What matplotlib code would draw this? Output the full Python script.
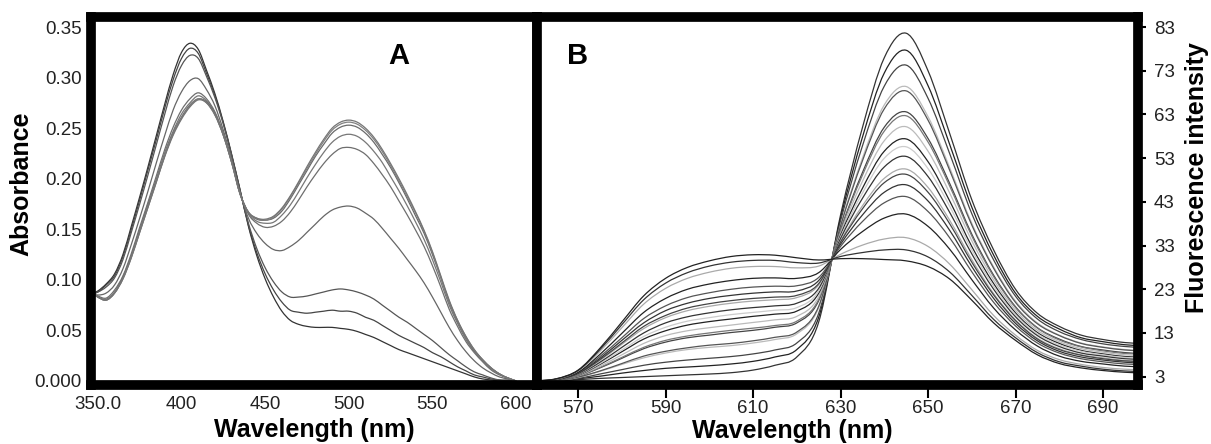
import matplotlib
matplotlib.use('Agg')
import matplotlib.pyplot as plt
from matplotlib.path import Path
from matplotlib.patches import PathPatch

plt.rcParams['font.family'] = ['Liberation Sans', 'DejaVu Sans']

# ---- Panel A: absorbance spectra ----
wl_abs = [345, 350, 355, 360, 365, 370, 375, 380, 385, 390,
          395, 400, 405, 410, 415, 420, 425, 430, 435, 440,
          445, 450, 455, 460, 465, 470, 475, 480, 485, 490,
          495, 500, 505, 510, 515, 520, 525, 530, 535, 540,
          545, 550, 555, 560, 565, 570, 575, 580, 585, 590,
          595, 600]

abs_1 = [.085, .089, .096, .106, .125, .153, .182, .212, .243, .274,
         .303, .325, .334, .328, .307, .284, .256, .224, .189, .153,
         .124, .101, .083, .069, .060, .056, .054, .053, .053, .053,
         .052, .051, .049, .046, .043, .039, .035, .031, .028, .025,
         .022, .019, .016, .013, .010, .007, .004, .002, .001, 0,
         0, 0]
abs_2 = [.085, .088, .095, .104, .123, .150, .179, .209, .239, .270,
         .298, .319, .329, .324, .304, .282, .255, .223, .189, .154,
         .127, .106, .090, .078, .070, .068, .067, .068, .069, .070,
         .069, .069, .067, .063, .060, .055, .050, .045, .041, .037,
         .033, .028, .024, .019, .014, .010, .006, .004, .002, .001,
         0, 0]
abs_3 = [.086, .088, .093, .102, .120, .147, .175, .204, .234, .264,
         .292, .312, .322, .319, .301, .280, .254, .223, .188, .156,
         .131, .112, .098, .088, .083, .083, .084, .086, .088, .090,
         .091, .090, .088, .085, .081, .075, .069, .063, .058, .052,
         .046, .040, .033, .026, .020, .014, .009, .006, .003, .001,
         .001, 0]
abs_4 = [.087, .085, .087, .095, .111, .135, .161, .188, .216, .243,
         .268, .286, .297, .299, .288, .272, .248, .219, .187, .161,
         .146, .136, .130, .129, .133, .139, .147, .155, .163, .169,
         .172, .173, .171, .166, .160, .151, .141, .131, .120, .109,
         .097, .083, .068, .053, .040, .029, .020, .013, .008, .004,
         .002, 0]
abs_5 = [.088, .084, .082, .090, .104, .126, .152, .177, .203, .229,
         .251, .268, .279, .285, .279, .266, .245, .217, .186, .165,
         .156, .152, .153, .158, .167, .179, .192, .204, .215, .224,
         .230, .231, .229, .224, .215, .204, .192, .178, .164, .149,
         .133, .114, .093, .071, .054, .039, .028, .019, .011, .006,
         .003, 0]
abs_6 = [.089, .083, .081, .088, .103, .124, .149, .175, .200, .226,
         .247, .264, .275, .282, .277, .265, .244, .217, .185, .166,
         .158, .156, .157, .164, .174, .187, .201, .214, .226, .236,
         .242, .244, .242, .236, .227, .216, .202, .188, .173, .157,
         .140, .120, .098, .075, .057, .041, .029, .020, .012, .007,
         .003, 0]
abs_7 = [.089, .083, .080, .087, .102, .123, .148, .173, .198, .223,
         .245, .261, .273, .279, .276, .264, .243, .216, .185, .167,
         .160, .159, .161, .168, .180, .194, .208, .222, .234, .245,
         .251, .253, .251, .245, .236, .224, .211, .196, .180, .163,
         .146, .125, .102, .078, .059, .043, .030, .021, .013, .007,
         .003, 0]
abs_8 = [.089, .083, .080, .087, .101, .122, .147, .172, .197, .223,
         .244, .260, .272, .279, .275, .263, .243, .216, .185, .167,
         .161, .159, .162, .170, .182, .196, .210, .224, .237, .248,
         .254, .256, .254, .248, .239, .227, .213, .198, .182, .166,
         .148, .127, .103, .079, .060, .044, .031, .021, .013, .007,
         .003, 0]
abs_9 = [.089, .083, .080, .087, .101, .122, .147, .172, .197, .222,
         .243, .259, .271, .278, .275, .263, .243, .216, .185, .167,
         .161, .160, .163, .171, .183, .197, .212, .226, .239, .250,
         .256, .258, .256, .250, .241, .229, .215, .200, .184, .167,
         .149, .128, .104, .080, .060, .044, .031, .021, .013, .007,
         .003, 0]

abs_curves = [abs_1, abs_2, abs_3, abs_4, abs_5, abs_6, abs_7, abs_8, abs_9]
abs_colors = ['#333333', '#444444', '#555555', '#666666', '#6e6e6e',
              '#777777', '#6a6a6a', '#808080', '#757575']

# ---- Panel B: fluorescence spectra ----
wl_fl = [560, 565, 570, 575, 580, 585, 590, 595, 600, 605,
         610, 615, 620, 625, 630, 635, 640, 645, 650, 655,
         660, 665, 670, 675, 680, 685, 690, 695, 700]

fl_01 = [1.8, 2.0, 2.3, 2.6, 2.8, 3.0, 3.2, 3.4, 3.6, 3.9,
         4.5, 5.6, 7.5, 15.5, 40.0, 60.0, 76.0, 81.6, 73.0, 58.5,
         43.5, 32.0, 23.0, 17.5, 14.5, 12.5, 11.5, 10.8, 10.5]
fl_02 = [1.8, 2.0, 2.5, 3.1, 3.8, 4.4, 4.9, 5.2, 5.5, 5.9,
         6.5, 7.5, 9.2, 16.6, 39.3, 57.8, 72.5, 77.7, 69.6, 56.0,
         41.8, 30.8, 22.1, 16.8, 13.9, 11.9, 11.0, 10.3, 10.0]
fl_03 = [1.8, 2.1, 2.6, 3.6, 4.6, 5.6, 6.3, 6.8, 7.2, 7.6,
         8.2, 9.1, 10.7, 17.5, 38.6, 55.8, 69.5, 74.3, 66.7, 53.9,
         40.3, 29.7, 21.4, 16.2, 13.3, 11.5, 10.5, 9.9, 9.6]
fl_04 = [1.8, 2.1, 2.8, 4.2, 5.8, 7.3, 8.4, 9.2, 9.7, 10.1,
         10.7, 11.5, 12.8, 18.8, 37.7, 53.0, 65.2, 69.4, 62.5, 50.7,
         38.1, 28.1, 20.3, 15.3, 12.5, 10.7, 9.8, 9.2, 8.9]
fl_05 = [1.9, 2.1, 2.9, 4.3, 6.0, 7.7, 8.8, 9.6, 10.2, 10.6,
         11.2, 12.0, 13.2, 19.1, 37.5, 52.4, 64.3, 68.4, 61.7, 50.1,
         37.7, 27.8, 20.0, 15.1, 12.4, 10.6, 9.7, 9.1, 8.8]
fl_06 = [1.9, 2.2, 3.1, 5.0, 7.2, 9.4, 10.9, 11.9, 12.5, 13.1,
         13.6, 14.3, 15.3, 20.4, 36.6, 49.7, 60.1, 63.6, 57.5, 47.1,
         35.6, 26.2, 19.0, 14.2, 11.6, 9.9, 9.1, 8.5, 8.2]
fl_07 = [1.9, 2.2, 3.1, 5.1, 7.4, 9.7, 11.3, 12.3, 13.0, 13.6,
         14.1, 14.7, 15.7, 20.7, 36.4, 49.1, 59.2, 62.7, 56.7, 46.5,
         35.2, 25.9, 18.8, 14.1, 11.4, 9.8, 8.9, 8.3, 8.1]
fl_08 = [1.9, 2.2, 3.2, 5.4, 8.0, 10.6, 12.4, 13.5, 14.2, 14.8,
         15.4, 16.0, 16.8, 21.3, 35.9, 47.7, 57.0, 60.2, 54.6, 44.9,
         34.1, 25.1, 18.2, 13.6, 11.0, 9.4, 8.6, 8.0, 7.8]
fl_09 = [1.9, 2.2, 3.3, 5.8, 8.7, 11.6, 13.5, 14.8, 15.6, 16.2,
         16.8, 17.3, 18.0, 22.1, 35.4, 46.1, 54.6, 57.4, 52.2, 43.1,
         32.8, 24.3, 17.6, 13.1, 10.6, 9.0, 8.2, 7.6, 7.4]
fl_10 = [1.9, 2.3, 3.4, 6.0, 9.1, 12.2, 14.3, 15.7, 16.5, 17.2,
         17.7, 18.2, 18.8, 22.6, 35.0, 45.0, 53.0, 55.6, 50.6, 41.9,
         32.0, 23.7, 17.2, 12.8, 10.3, 8.8, 8.0, 7.4, 7.2]
fl_11 = [1.9, 2.3, 3.5, 6.3, 9.7, 13.0, 15.3, 16.7, 17.6, 18.3,
         18.8, 19.2, 19.8, 23.2, 34.6, 43.8, 51.0, 53.4, 48.8, 40.5,
         31.1, 23.0, 16.7, 12.4, 9.9, 8.4, 7.7, 7.1, 6.9]
fl_12 = [1.9, 2.3, 3.6, 6.7, 10.4, 14.0, 16.5, 18.1, 19.1, 19.8,
         20.3, 20.6, 21.1, 24.0, 34.0, 42.1, 48.4, 50.5, 46.3, 38.7,
         29.8, 22.0, 16.0, 11.8, 9.4, 8.0, 7.3, 6.7, 6.5]
fl_13 = [1.9, 2.3, 3.7, 6.9, 10.7, 14.5, 17.0, 18.7, 19.7, 20.4,
         20.9, 21.2, 21.6, 24.3, 33.8, 41.4, 47.4, 49.3, 45.2, 37.9,
         29.2, 21.7, 15.8, 11.6, 9.2, 7.9, 7.1, 6.6, 6.4]
fl_14 = [1.9, 2.3, 3.8, 7.2, 11.3, 15.3, 18.1, 19.8, 20.9, 21.6,
         22.1, 22.4, 22.6, 25.0, 33.3, 40.0, 45.2, 46.9, 43.2, 36.4,
         28.2, 20.9, 15.2, 11.2, 8.8, 7.5, 6.8, 6.3, 6.0]
fl_15 = [1.9, 2.4, 3.9, 7.6, 11.9, 16.3, 19.2, 21.1, 22.2, 23.0,
         23.5, 23.7, 23.8, 25.7, 32.8, 38.5, 42.8, 44.2, 40.8, 34.7,
         27.0, 20.0, 14.6, 10.7, 8.4, 7.1, 6.4, 5.9, 5.7]
fl_16 = [2.0, 2.4, 4.0, 8.1, 12.9, 17.7, 20.9, 23.0, 24.2, 25.0,
         25.5, 25.6, 25.5, 26.8, 32.1, 36.2, 39.3, 40.2, 37.4, 32.1,
         25.2, 18.7, 13.7, 10.0, 7.7, 6.5, 5.9, 5.4, 5.2]
fl_17 = [2.0, 2.4, 4.3, 8.8, 14.2, 19.6, 23.2, 25.5, 26.9, 27.8,
         28.2, 28.2, 27.9, 28.3, 31.0, 33.1, 34.5, 34.8, 32.8, 28.7,
         22.9, 17.0, 12.5, 9.0, 6.9, 5.8, 5.1, 4.7, 4.5]
fl_18 = [2.0, 2.5, 4.4, 9.2, 14.9, 20.6, 24.4, 26.8, 28.3, 29.2,
         29.6, 29.6, 29.1, 29.0, 30.5, 31.4, 32.0, 32.0, 30.4, 26.9,
         21.6, 16.1, 11.9, 8.5, 6.4, 5.4, 4.7, 4.3, 4.1]
fl_19 = [2.0, 2.5, 4.5, 9.5, 15.5, 21.5, 25.5, 28.0, 29.5, 30.5,
         30.9, 30.8, 30.2, 29.7, 30.0, 30.0, 29.8, 29.5, 28.2, 25.3,
         20.5, 15.3, 11.3, 8.0, 6.0, 5.0, 4.4, 4.0, 3.8]

fl_curves = [fl_01, fl_02, fl_03, fl_04, fl_05, fl_06, fl_07, fl_08, fl_09, fl_10,
             fl_11, fl_12, fl_13, fl_14, fl_15, fl_16, fl_17, fl_18, fl_19]
fl_colors = ['#333333', '#222222', '#444444', '#bbbbbb', '#555555',
             '#444444', '#777777', '#bbbbbb', '#222222', '#cccccc',
             '#333333', '#aaaaaa', '#444444', '#333333', '#555555',
             '#222222', '#aaaaaa', '#333333', '#222222']

abs_xticks = [350, 400, 450, 500, 550, 600]
abs_xlabels = ['350.0', '400', '450', '500', '550', '600']
abs_yticks = [0, 0.05, 0.10, 0.15, 0.20, 0.25, 0.30, 0.35]
abs_ylabels = ['0.000', '0.05', '0.10', '0.15', '0.20', '0.25', '0.30', '0.35']
fl_xticks = [570, 590, 610, 630, 650, 670, 690]
fl_yticks = [3, 13, 23, 33, 43, 53, 63, 73, 83]


def smooth_line(ax, x, y, color, lw=0.9):
    # draw the sampled points as a smooth (Catmull-Rom style) bezier path
    n = len(x)
    verts = [(x[0], y[0])]
    codes = [Path.MOVETO]
    for i in range(n - 1):
        x0, y0 = (x[i - 1], y[i - 1]) if i > 0 else (x[i], y[i])
        x1, y1 = x[i], y[i]
        x2, y2 = x[i + 1], y[i + 1]
        x3, y3 = (x[i + 2], y[i + 2]) if i + 2 < n else (x2, y2)
        verts += [(x1 + (x2 - x0) / 6, y1 + (y2 - y0) / 6),
                  (x2 - (x3 - x1) / 6, y2 - (y3 - y1) / 6),
                  (x2, y2)]
        codes += [Path.CURVE4] * 3
    ax.add_patch(PathPatch(Path(verts, codes), facecolor='none',
                           edgecolor=color, lw=lw))


W, H = 1211, 444
fig = plt.figure(figsize=(W / 100, H / 100), dpi=100)
ax_a = fig.add_axes([91 / W, 59.5 / H, 446 / W, 367 / H])
ax_b = fig.add_axes([537 / W, 59.5 / H, 601 / W, 367 / H])

for y, c in zip(abs_curves, abs_colors):
    smooth_line(ax_a, wl_abs, y, c)
for y, c in zip(fl_curves, fl_colors):
    smooth_line(ax_b, wl_fl, y, c)

ax_a.set_xlim(345.9, 612.5)
ax_a.set_ylim(-0.0035, 0.3595)
ax_b.set_xlim(560.6, 698.0)
ax_b.set_ylim(1.2, 85.2)

for ax in (ax_a, ax_b):
    for sp in ax.spines.values():
        sp.set_linewidth(7)
        sp.set_color('black')
        sp.set_capstyle('projecting')

ax_a.set_xticks(abs_xticks)
ax_a.set_xticklabels(abs_xlabels)
ax_a.set_yticks(abs_yticks)
ax_a.set_yticklabels(abs_ylabels)
ax_a.tick_params(axis='both', length=0, labelsize=13.5, labelcolor='#222222')
ax_a.tick_params(axis='y', pad=6.5)
ax_a.tick_params(axis='x', pad=8)

ax_b.yaxis.tick_right()
ax_b.set_xticks(fl_xticks)
ax_b.set_yticks(fl_yticks)
ax_b.tick_params(axis='x', length=9, width=1.5, pad=2, labelsize=13.5,
                 labelcolor='#222222')
ax_b.tick_params(axis='y', length=6, width=1.5, pad=5.5, labelsize=13.5,
                 labelcolor='#222222')

lab = dict(fontsize=18, fontweight='bold')
ax_a.set_xlabel('Wavelength (nm)', **lab)
ax_a.xaxis.set_label_coords(0.5, -0.125)
ax_a.xaxis.label.set_verticalalignment('center')
ax_a.set_ylabel('Absorbance', **lab)
ax_a.yaxis.set_label_coords(-0.155, 0.548)
ax_a.yaxis.label.set_verticalalignment('center')

ax_b.set_xlabel('Wavelength (nm)', **lab)
ax_b.xaxis.set_label_coords(0.424, -0.127)
ax_b.xaxis.label.set_verticalalignment('center')
ax_b.yaxis.set_label_position('right')
ax_b.set_ylabel('Fluorescence intensity', **lab)
ax_b.yaxis.set_label_coords(1.098, 0.563)
ax_b.yaxis.label.set_verticalalignment('center')

ax_a.text(0.69, 0.895, 'A', transform=ax_a.transAxes, fontsize=21,
          fontweight='bold', ha='center', va='center')
ax_b.text(0.068, 0.895, 'B', transform=ax_b.transAxes, fontsize=21,
          fontweight='bold', ha='center', va='center')

fig.savefig('out.png', dpi=100)
